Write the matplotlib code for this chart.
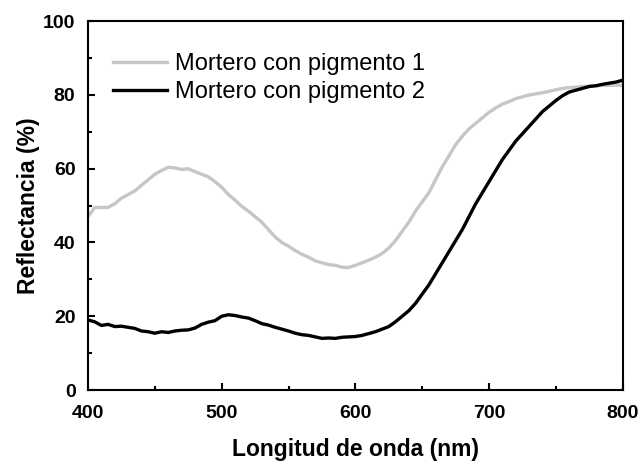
import numpy as np
import matplotlib
matplotlib.use("Agg")
import matplotlib.pyplot as plt
from matplotlib.ticker import MultipleLocator

wavelength = list(range(400, 801, 5))

pigmento1 = [47, 49.5, 49.5, 49.5, 50.5, 52, 53, 54, 55.5, 57, 58.5, 59.5, 60.4, 60.2, 59.8, 60,
             59.2, 58.5, 57.8, 56.5, 55, 53, 51.5, 49.8, 48.5, 47, 45.5, 43.5, 41.5, 40, 39, 37.8,
             36.8, 36, 35, 34.5, 34, 33.8, 33.3, 33.2, 33.8, 34.5, 35.2, 36, 37, 38.5, 40.5, 43,
             45.5, 48.5, 51, 53.5, 57, 60.5, 63.5, 66.5, 68.8, 70.8, 72.3, 73.8, 75.3, 76.5, 77.5,
             78.2, 79, 79.5, 80, 80.3, 80.6, 81, 81.4, 81.8, 82, 82.1, 82.3, 82.4, 82.5, 82.6,
             82.6, 82.7, 82.6]

pigmento2 = [19, 18.5, 17.5, 17.8, 17.2, 17.3, 17, 16.7, 16, 15.8, 15.4, 15.8, 15.6, 16, 16.2,
             16.3, 16.8, 17.8, 18.4, 18.8, 20, 20.4, 20.2, 19.8, 19.5, 18.8, 18, 17.6, 17, 16.5,
             16, 15.4, 15, 14.8, 14.4, 14, 14.1, 14, 14.3, 14.4, 14.5, 14.8, 15.3, 15.8, 16.5,
             17.2, 18.5, 20, 21.5, 23.5, 26, 28.5, 31.5, 34.5, 37.5, 40.5, 43.5, 47, 50.5, 53.5,
             56.5, 59.5, 62.5, 65, 67.5, 69.5, 71.5, 73.5, 75.5, 77, 78.5, 79.8, 80.8, 81.3, 81.8,
             82.3, 82.5, 82.9, 83.2, 83.5, 84]

labels = ["Mortero con pigmento 1", "Mortero con pigmento 2"]

plt.rcParams['font.family'] = ['Liberation Sans', 'DejaVu Sans']

fig = plt.figure(figsize=(6.4, 4.61), dpi=100)
ax = fig.add_axes([0.1375, 0.154, 0.8355, 0.80])

ax.plot(wavelength, pigmento1, color='#c6c6c6', lw=2.4, label=labels[0])
ax.plot(wavelength, pigmento2, color='black', lw=2.4, label=labels[1])

ax.set_xlim(400, 800)
ax.set_ylim(0, 100)
ax.xaxis.set_major_locator(MultipleLocator(100))
ax.xaxis.set_minor_locator(MultipleLocator(50))
ax.yaxis.set_major_locator(MultipleLocator(20))
ax.yaxis.set_minor_locator(MultipleLocator(10))
ax.tick_params(which='both', direction='in', top=False, right=False, width=1.5)
ax.tick_params(which='major', length=5, labelsize=14)
ax.tick_params(axis='x', which='major', pad=11)
ax.tick_params(axis='y', which='major', pad=9)
ax.tick_params(which='minor', length=3)
for lab in ax.get_xticklabels() + ax.get_yticklabels():
    lab.set_fontweight('bold')
for s in ax.spines.values():
    s.set_linewidth(1.5)

ax.set_xlabel("Longitud de onda (nm)", fontsize=16.5, fontweight='bold', labelpad=11)
ax.set_ylabel("Reflectancia (%)", fontsize=16.5, fontweight='bold', labelpad=2)

ax.legend(loc='upper left', bbox_to_anchor=(0.047, 0.913), frameon=False, fontsize=17,
          handlelength=2.3, handletextpad=0.3, labelspacing=0.25, borderaxespad=0,
          borderpad=0)

fig.savefig("out.png", dpi=100)
